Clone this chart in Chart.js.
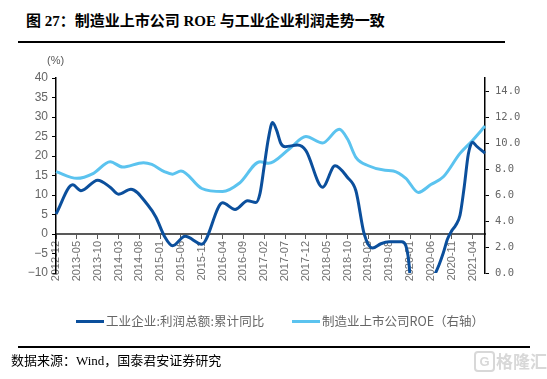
<!DOCTYPE html>
<html><head><meta charset="utf-8">
<script src="https://cdn.jsdelivr.net/npm/chart.js@4/dist/chart.umd.min.js"></script>
<style>
html,body{margin:0;padding:0;background:#fff;}
body{width:547px;height:379px;position:relative;overflow:hidden;font-family:"Noto Sans CJK SC",sans-serif;}
#c{position:absolute;left:0;top:0;}
.abs{position:absolute;white-space:nowrap;}
</style></head><body>
<div class="abs" style="left:26px;top:12px;font-size:15px;line-height:18px;font-weight:bold;font-family:'Liberation Serif','Noto Sans CJK SC';color:#000;letter-spacing:0px;">图 27：制造业上市公司 ROE 与工业企业利润走势一致</div>
<div class="abs" style="left:18px;top:41px;width:487px;height:1.5px;background:#000"></div>
<canvas id="c" width="547" height="379"></canvas>
<div class="abs" style="left:47px;top:54px;font-size:11px;line-height:12px;color:#595959;font-family:'Liberation Sans'">(%)</div>
<div class="abs" style="left:76px;top:319.5px;width:28px;height:3px;background:#0b4f9c"></div>
<div class="abs" style="left:106px;top:313px;font-size:12.5px;line-height:16px;color:#666;letter-spacing:0.1px;">工业企业:利润总额:累计同比</div>
<div class="abs" style="left:292px;top:319.5px;width:28px;height:3px;background:#5bc3ef"></div>
<div class="abs" style="left:322px;top:313px;font-size:12.5px;line-height:16px;color:#666;letter-spacing:0px;">制造业上市公司ROE（右轴）</div>
<div class="abs" style="left:18px;top:346px;width:512px;height:1.5px;background:#000"></div>
<div class="abs" style="left:11px;top:352px;font-size:13px;line-height:17px;color:#000;font-family:'Liberation Serif','Noto Sans CJK SC'">数据来源：Wind，国泰君安证券研究</div>
<div class="abs" style="left:474px;top:351px;width:17px;height:17px;border:2px solid #d8d8d8;border-radius:4px;color:#d8d8d8;font:bold 13px/17px 'Liberation Sans';text-align:center;">G</div>
<div class="abs" style="left:496px;top:350px;font-size:17px;line-height:21px;font-weight:bold;color:#d8d8d8;">格隆汇</div>
<script>
// x-axis tick labels shown every 5 months
const tickLabels = ['2012-12','2013-05','2013-10','2014-03','2014-08','2015-01','2015-06','2015-11',
  '2016-04','2016-09','2017-02','2017-07','2017-12','2018-05','2018-10','2019-03','2019-08',
  '2020-01','2020-06','2020-11','2021-04'];
// monthly categories 2012-12 .. 2021-07
const categories = [];
for (let i = 0; i < 104; i++) {
  const t = 2012 * 12 + 11 + i;
  categories.push(Math.floor(t / 12) + '-' + String(t % 12 + 1).padStart(2, '0'));
}
// 工业企业:利润总额:累计同比 (%), left axis
const profitMonths = ['2012-12','2013-04','2013-06','2013-10','2014-01','2014-03','2014-06','2014-10','2014-12',
  '2015-02','2015-04','2015-07','2015-11','2016-04','2016-07','2016-10','2016-12','2017-01','2017-02','2017-03',
  '2017-04','2017-05','2017-06','2017-07','2017-10','2017-12','2018-04','2018-07','2018-10','2018-12','2019-02',
  '2019-04','2019-06','2019-08','2019-11','2019-12','2020-01','2020-02','2020-03','2020-04','2020-05','2020-06',
  '2020-07','2020-08','2020-09','2020-10','2020-11','2020-12','2021-01','2021-02','2021-03','2021-04','2021-05','2021-07'];
const profitValues = [5.1,12.6,11.1,13.8,12.0,10.2,11.5,7.5,4.3,
  -0.5,-3.0,-0.6,-2.6,8.0,6.3,8.5,8.1,10.5,17.5,24.5,
  28.6,26.5,23.2,22.4,22.8,21.4,12.0,17.5,14.5,11.1,0.0,
  -3.6,-2.5,-2.0,-2.0,-3.0,-11.0,-38.0,-36.0,-27.0,-19.0,-13.0,
  -10.3,-7.8,-4.8,-1.3,0.8,2.3,4.8,12.0,20.5,23.5,22.5,20.7];
// 制造业上市公司ROE (%), right axis
const roeMonths = ['2012-12','2013-05','2013-09','2014-01','2014-04','2014-09','2014-11','2015-02','2015-04',
  '2015-06','2015-11','2016-04','2016-08','2017-01','2017-03','2017-08','2017-12','2018-04','2018-08','2018-10',
  '2018-12','2019-03','2019-07','2019-09','2019-12','2020-03','2020-06','2020-09','2021-01','2021-04','2021-07'];
const roeValues = [7.8,7.28,7.67,8.56,8.15,8.49,8.35,7.8,7.6,
  7.85,6.5,6.26,6.9,8.56,8.44,9.54,10.5,10.0,11.05,10.3,
  8.9,8.25,7.9,7.85,7.28,6.2,6.8,7.4,9.2,10.2,11.3];
const seriesNames = ['工业企业:利润总额:累计同比', '制造业上市公司ROE（右轴）'];

const axisFont = {family: 'Liberation Sans', size: 12};
new Chart(document.getElementById('c'), {
  type: 'line',
  data: {
    labels: categories,
    datasets: [
      {label: seriesNames[0], data: profitMonths.map((m, i) => ({x: m, y: profitValues[i]})), yAxisID: 'y',
       borderColor: '#0b4f9c', borderWidth: 3, pointRadius: 0, cubicInterpolationMode: 'monotone', fill: false},
      {label: seriesNames[1], data: roeMonths.map((m, i) => ({x: m, y: roeValues[i]})), yAxisID: 'y1',
       borderColor: '#5bc3ef', borderWidth: 3, pointRadius: 0, cubicInterpolationMode: 'monotone', fill: false}
    ]
  },
  options: {
    responsive: false, animation: false, devicePixelRatio: 1,
    layout: {padding: {left: 0, right: 0, top: 78, bottom: 106}},
    plugins: {legend: {display: false}, tooltip: {enabled: false}},
    scales: {
      x: {
        type: 'category', position: {y: 0}, offset: false,
        grid: {drawOnChartArea: false, drawTicks: true, tickLength: 4, color: '#595959', lineWidth: 1},
        border: {display: true, color: '#595959', width: 2},
        ticks: {autoSkip: false, maxRotation: 90, minRotation: 90, padding: 3, color: '#707070',
          font: {family: 'Liberation Sans', size: 11},
          callback: function (v) { const l = this.getLabelForValue(v); return tickLabels.includes(l) ? l : null; }},
        afterFit: s => { s.height = 0; }
      },
      y: {
        position: 'left', min: -10, max: 40,
        grid: {drawOnChartArea: false, drawTicks: true, tickLength: 4, color: '#000'},
        border: {display: true, color: '#000', width: 1.5},
        ticks: {stepSize: 5, padding: 4, color: '#666', font: axisFont,
          callback: v => v < 0 ? '\u2212' + Math.abs(v) : String(v)},
        afterFit: s => { s.width = 56; }
      },
      y1: {
        position: 'right', min: 0, max: 15,
        grid: {drawOnChartArea: false, drawTicks: true, tickLength: 4, color: '#000'},
        border: {display: true, color: '#000', width: 1.5},
        ticks: {stepSize: 2, includeBounds: false, padding: 6, color: '#666',
          font: {family: 'DejaVu Sans Mono', size: 10.5}, callback: v => v.toFixed(1)},
        afterFit: s => { s.width = 62; }
      }
    }
  }
});
</script>
</body></html>
